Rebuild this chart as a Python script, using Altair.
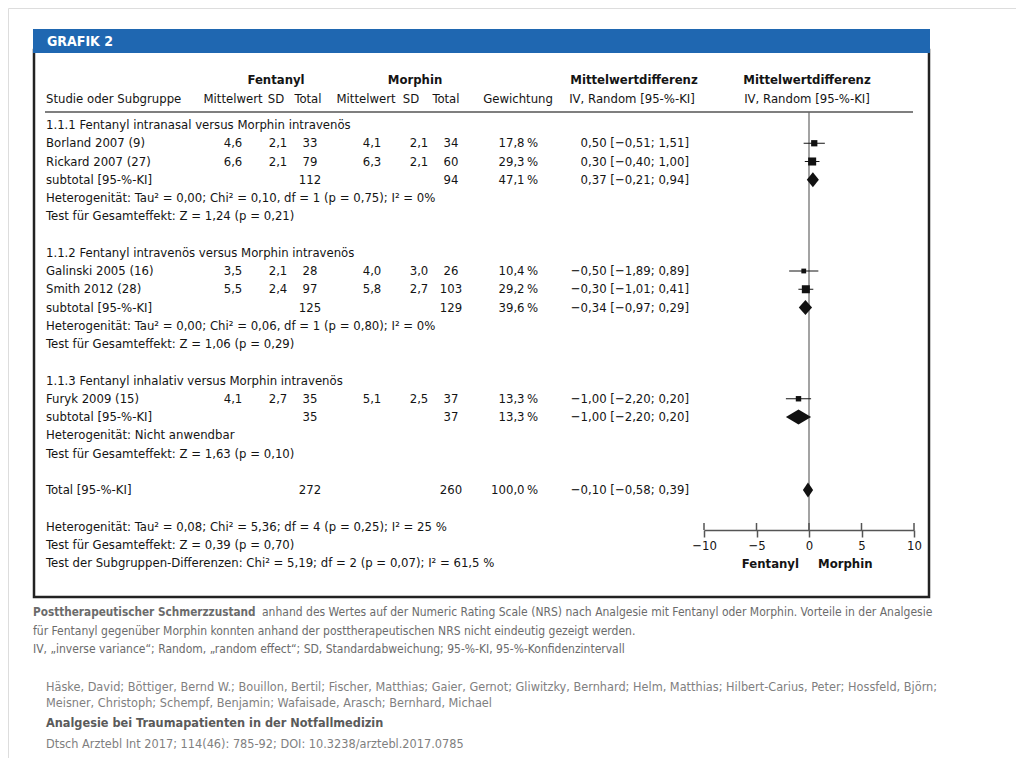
import altair as alt
import pandas as pd

# ------------------------------------------------------------------ data
groups = [
    "1.1.1 Fentanyl intranasal versus Morphin intravenös",
    "1.1.2 Fentanyl intravenös versus Morphin intravenös",
    "1.1.3 Fentanyl inhalativ versus Morphin intravenös",
]
study_group = [0, 0, 1, 1, 2]
studies = ["Borland 2007 (9)", "Rickard 2007 (27)", "Galinski 2005 (16)",
           "Smith 2012 (28)", "Furyk 2009 (15)"]
fent_mean = [4.6, 6.6, 3.5, 5.5, 4.1]
fent_sd = [2.1, 2.1, 2.1, 2.4, 2.7]
fent_n = [33, 79, 28, 97, 35]
morph_mean = [4.1, 6.3, 4.0, 5.8, 5.1]
morph_sd = [2.1, 2.1, 3.0, 2.7, 2.5]
morph_n = [34, 60, 26, 103, 37]
weight = [17.8, 29.3, 10.4, 29.2, 13.3]
md = [0.50, 0.30, -0.50, -0.30, -1.00]
md_lo = [-0.51, -0.40, -1.89, -1.01, -2.20]
md_hi = [1.51, 1.00, 0.89, 0.41, 0.20]

sub_fent_n = [112, 125, 35]
sub_morph_n = [94, 129, 37]
sub_weight = [47.1, 39.6, 13.3]
sub_md = [0.37, -0.34, -1.00]
sub_lo = [-0.21, -0.97, -2.20]
sub_hi = [0.94, 0.29, 0.20]

tot_fent_n = 272
tot_morph_n = 260
tot_weight = 100.0
tot_md = -0.10
tot_lo = -0.58
tot_hi = 0.39

het_text = [
    "Heterogenität:  Tau² = 0,00; Chi² = 0,10, df = 1 (p = 0,75); I² = 0%",
    "Heterogenität:  Tau² = 0,00; Chi² = 0,06, df = 1 (p = 0,80); I² = 0%",
    "Heterogenität:  Nicht anwendbar",
]
test_text = [
    "Test für Gesamteffekt:  Z = 1,24 (p = 0,21)",
    "Test für Gesamteffekt:  Z = 1,06 (p = 0,29)",
    "Test für Gesamteffekt:  Z = 1,63 (p = 0,10)",
]
overall_lines = [
    "Heterogenität:  Tau² = 0,08; Chi² = 5,36; df = 4 (p = 0,25); I² = 25 %",
    "Test für Gesamteffekt:  Z = 0,39 (p = 0,70)",
    "Test der Subgruppen-Differenzen:  Chi² = 5,19; df = 2 (p = 0,07); I² = 61,5 %",
]
axis_ticks = [-10, -5, 0, 5, 10]

caption_bold = "Posttherapeutischer Schmerzzustand"
caption_lines = [
    "anhand des Wertes auf der Numeric Rating Scale (NRS) nach Analgesie mit Fentanyl oder Morphin. Vorteile in der Analgesie",
    "für Fentanyl gegenüber Morphin konnten anhand der posttherapeutischen NRS nicht eindeutig gezeigt werden.",
    "IV, „inverse variance“; Random, „random effect“; SD, Standardabweichung; 95-%-KI, 95-%-Konfidenzintervall",
]
citation_lines = [
    "Häske, David; Böttiger, Bernd W.; Bouillon, Bertil; Fischer, Matthias; Gaier, Gernot; Gliwitzky, Bernhard; Helm, Matthias; Hilbert-Carius, Peter; Hossfeld, Björn;",
    "Meisner, Christoph; Schempf, Benjamin; Wafaisade, Arasch; Bernhard, Michael",
    "Analgesie bei Traumapatienten in der Notfallmedizin",
    "Dtsch Arztebl Int 2017; 114(46): 785-92; DOI: 10.3238/arztebl.2017.0785",
]

# ------------------------------------------------------------------ helpers
def de(v, d):
    s = f"{abs(v):.{d}f}".replace(".", ",")
    return ("\u2212" if v < 0 else "") + s


def ci(m, lo, hi):
    return f"{de(m, 2)} [{de(lo, 2)}; {de(hi, 2)}]"


def blank(r, label):
    return dict(row=r, label=label, fm="", fsd="", fn="", mm="", msd="", mn="", w="", ci="")


rows = []
diamonds = []
row = 0
for g, gname in enumerate(groups):
    rows.append(blank(row, gname))
    row += 1
    for i in [k for k, sg in enumerate(study_group) if sg == g]:
        rows.append(dict(row=row, label=studies[i], fm=de(fent_mean[i], 1), fsd=de(fent_sd[i], 1),
                         fn=str(fent_n[i]), mm=de(morph_mean[i], 1), msd=de(morph_sd[i], 1),
                         mn=str(morph_n[i]), w=de(weight[i], 1) + "\u2009%",
                         ci=ci(md[i], md_lo[i], md_hi[i]),
                         kind="study", est=md[i], lo=md_lo[i], hi=md_hi[i], wt=weight[i]))
        row += 1
    r = blank(row, "subtotal [95-%-KI]")
    r.update(fn=str(sub_fent_n[g]), mn=str(sub_morph_n[g]), w=de(sub_weight[g], 1) + "\u2009%",
             ci=ci(sub_md[g], sub_lo[g], sub_hi[g]))
    rows.append(r)
    diamonds.append((f"s{g}", row, sub_md[g], sub_lo[g], sub_hi[g]))
    row += 1
    rows.append(blank(row, het_text[g]))
    row += 1
    rows.append(blank(row, test_text[g]))
    row += 2

r = blank(row, "Total [95-%-KI]")
r.update(fn=str(tot_fent_n), mn=str(tot_morph_n), w=de(tot_weight, 1) + "\u2009%",
         ci=ci(tot_md, tot_lo, tot_hi))
rows.append(r)
diamonds.append(("tot", row, tot_md, tot_lo, tot_hi))
row += 2
for line in overall_lines:
    rows.append(blank(row, line))
    row += 1

table = pd.DataFrame(rows)
study_df = table[table["kind"] == "study"].copy()

HALF = 0.41  # diamond half height in rows
dia_rows = []
for name, rr, m, lo, hi in diamonds:
    dia_rows += [dict(g=name, x=lo, y1=rr, y2=rr),
                 dict(g=name, x=m, y1=rr - HALF, y2=rr + HALF),
                 dict(g=name, x=hi, y1=rr, y2=rr)]
dia_df = pd.DataFrame(dia_rows)

# ------------------------------------------------------------------ style
FONT = "DejaVu Sans Condensed, Liberation Sans Narrow, sans-serif"
INK = "#141414"
FS = 13
OX, OY = 8, 8  # page margin
W, HGT = 1008, 750


def px(v):
    return v - OX


def py(v):
    return v - OY


rowscale = alt.Scale(domain=[0, 20], range=[py(125), py(490)], nice=False, zero=False)
yrow = alt.Y("row:Q", scale=rowscale, axis=None)
xscale = alt.Scale(domain=[-10, 10], range=[px(704), px(914)], nice=False, zero=False)
xaxis = alt.Axis(values=axis_ticks, title=None, grid=False, offset=py(530) - HGT,
                 domainColor="#555", domainWidth=1.5, tickColor="#555", tickWidth=1.5, tickSize=7,
                 labelFont=FONT, labelFontSize=13, labelColor=INK, labelPadding=2, labelFlush=False)


def xf(field):
    return alt.X(field, scale=xscale, axis=xaxis)


def free_text(txt, x, y, align="left", bold=False, size=FS, color=INK, font=FONT):
    return alt.Chart(pd.DataFrame({"t": [txt]})).mark_text(
        align=align, baseline="middle", font=font, fontSize=size,
        fontWeight="bold" if bold else "normal", color=color
    ).encode(x=alt.value(px(x)), y=alt.value(py(y)), text="t:N")


one = pd.DataFrame({"a": [0]})
layers = []

# frame + blue header bar
layers.append(alt.Chart(one).mark_rect(filled=False, stroke="#222", strokeWidth=2.5)
              .encode(x=alt.value(px(34)), x2=alt.value(px(929)), y=alt.value(py(50)), y2=alt.value(py(597))))
layers.append(alt.Chart(one).mark_rect(color="#1f67b1")
              .encode(x=alt.value(px(33)), x2=alt.value(px(930)), y=alt.value(py(29)), y2=alt.value(py(53))))
layers.append(free_text("GRAFIK 2", 47, 42, bold=True, size=14, color="white"))

# header separator
layers.append(alt.Chart(one).mark_rule(color="#555", strokeWidth=1.5)
              .encode(x=alt.value(px(45)), x2=alt.value(px(913)), y=alt.value(py(112))))

# column headers
layers += [
    free_text("Fentanyl", 276, 80, "center", bold=True),
    free_text("Morphin", 415, 80, "center", bold=True),
    free_text("Mittelwertdifferenz", 634, 80, "center", bold=True),
    free_text("Mittelwertdifferenz", 807, 80, "center", bold=True),
    free_text("Studie oder Subgruppe", 46, 99),
    free_text("Mittelwert", 233, 99, "center"),
    free_text("SD", 276, 99, "center"),
    free_text("Total", 308, 99, "center"),
    free_text("Mittelwert", 366, 99, "center"),
    free_text("SD", 411, 99, "center"),
    free_text("Total", 446, 99, "center"),
    free_text("Gewichtung", 518, 99, "center"),
    free_text("IV, Random [95-%-KI]", 632, 99, "center"),
    free_text("IV, Random [95-%-KI]", 807, 99, "center"),
]

# table body
cols = [("label", 46, "left"), ("fm", 233, "center"), ("fsd", 278, "center"), ("fn", 310, "center"),
        ("mm", 372, "center"), ("msd", 419, "center"), ("mn", 451, "center"),
        ("w", 538, "right"), ("ci", 689, "right")]
for field, x, al in cols:
    layers.append(alt.Chart(table).mark_text(align=al, baseline="middle", font=FONT, fontSize=FS, color=INK)
                  .encode(x=alt.value(px(x)), y=yrow, text=f"{field}:N"))

# forest plot: zero line, CIs, squares, diamonds, axis
layers.append(alt.Chart(pd.DataFrame({"z": [0]})).mark_rule(color="#666", strokeWidth=1.2)
              .encode(x=xf("z:Q"), y=alt.value(py(112)), y2=alt.value(py(530))))
layers.append(alt.Chart(pd.DataFrame({"t": axis_ticks})).mark_rule(color="#555", strokeWidth=1.5)
              .encode(x=xf("t:Q"), y=alt.value(py(523)), y2=alt.value(py(530))))
layers.append(alt.Chart(study_df).mark_rule(color=INK, strokeWidth=1)
              .encode(x=xf("lo:Q"), x2="hi:Q", y=yrow))
layers.append(alt.Chart(study_df).mark_square(filled=True, color="#111", opacity=1)
              .encode(x=xf("est:Q"), y=yrow,
                      size=alt.Size("wt:Q", scale=alt.Scale(domain=[0, 30], range=[0, 66]), legend=None)))
layers.append(alt.Chart(dia_df).mark_area(color="#111", opacity=1)
              .encode(x=xf("x:Q"), y=alt.Y("y1:Q", scale=rowscale, axis=None), y2="y2:Q", detail="g:N"))

layers.append(free_text("Fentanyl", 799, 564, "right", bold=True))
layers.append(free_text("Morphin", 818, 564, "left", bold=True))

# caption
CAP = "#6b6b6b"
layers.append(free_text(caption_bold, 33, 612, bold=True, color=CAP, size=11.7))
layers.append(free_text(caption_lines[0], 262, 612, color=CAP, size=12))
layers.append(free_text(caption_lines[1], 33, 631, color=CAP, size=12))
layers.append(free_text(caption_lines[2], 33, 649, color=CAP, size=12))

# citation
CIT = "#7f7f7f"
for txt, y, b, c in zip(citation_lines, [687, 703, 723, 744], [False, False, True, False],
                        [CIT, CIT, "#5a5a5a", CIT]):
    layers.append(free_text(txt, 46, y, bold=b, color=c, size=12.6))

chart = alt.layer(*layers).properties(
    width=W, height=HGT, padding=0, autosize=alt.AutoSizeParams(type="none")
).configure_view(stroke=None).configure(background="white")

chart.save("out.html", embed_options={"renderer": "svg", "actions": False})
